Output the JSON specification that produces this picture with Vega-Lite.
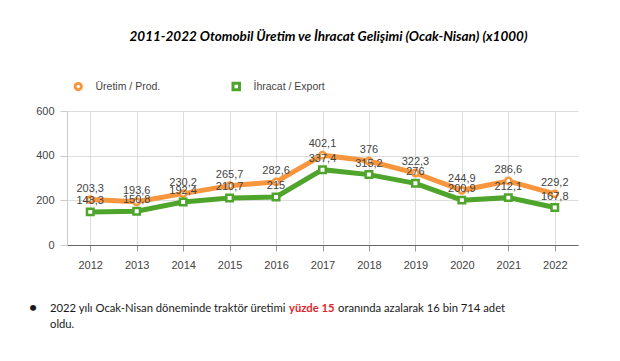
{
  "$schema": "https://vega.github.io/schema/vega-lite/v6.json",
  "background": "white",
  "padding": {"left": 29, "top": 29, "right": 10, "bottom": 10},
  "config": {
    "view": {"stroke": null},
    "font": "Liberation Sans",
    "locale": {"number": {"decimal": ",", "thousands": ".", "grouping": [3], "currency": ["", " TL"]}}
  },
  "title": {
    "text": "2011-2022 Otomobil Üretim ve İhracat Gelişimi (Ocak-Nisan) (x1000)",
    "font": "Lato", "fontSize": 13.5, "fontStyle": "italic", "fontWeight": "bold",
    "color": "#000000", "anchor": "middle", "dx": 25, "offset": 38
  },
  "spacing": 30,
  "vconcat": [
    {
      "width": 511,
      "height": 134,
      "data": {"values": [
        {"year": "2012", "series": "Üretim / Prod.", "value": 203.3},
        {"year": "2013", "series": "Üretim / Prod.", "value": 193.6},
        {"year": "2014", "series": "Üretim / Prod.", "value": 230.2},
        {"year": "2015", "series": "Üretim / Prod.", "value": 265.7},
        {"year": "2016", "series": "Üretim / Prod.", "value": 282.6},
        {"year": "2017", "series": "Üretim / Prod.", "value": 402.1},
        {"year": "2018", "series": "Üretim / Prod.", "value": 376},
        {"year": "2019", "series": "Üretim / Prod.", "value": 322.3},
        {"year": "2020", "series": "Üretim / Prod.", "value": 244.9},
        {"year": "2021", "series": "Üretim / Prod.", "value": 286.6},
        {"year": "2022", "series": "Üretim / Prod.", "value": 229.2},
        {"year": "2012", "series": "İhracat / Export", "value": 148.3},
        {"year": "2013", "series": "İhracat / Export", "value": 150.8},
        {"year": "2014", "series": "İhracat / Export", "value": 192.4},
        {"year": "2015", "series": "İhracat / Export", "value": 210.7},
        {"year": "2016", "series": "İhracat / Export", "value": 215},
        {"year": "2017", "series": "İhracat / Export", "value": 337.4},
        {"year": "2018", "series": "İhracat / Export", "value": 315.2},
        {"year": "2019", "series": "İhracat / Export", "value": 276},
        {"year": "2020", "series": "İhracat / Export", "value": 200.9},
        {"year": "2021", "series": "İhracat / Export", "value": 212.1},
        {"year": "2022", "series": "İhracat / Export", "value": 167.8}
      ]},
      "encoding": {
        "x": {
          "field": "year", "type": "ordinal",
          "scale": {"type": "point", "padding": 0.5},
          "axis": {
            "title": null, "labelAngle": 0, "labelFont": "Liberation Sans", "labelFontSize": 11,
            "labelColor": "#444444", "grid": true, "gridColor": "#dddddd", "domainColor": "#666666",
            "tickColor": "#999999", "tickSize": 6, "labelPadding": 8
          }
        },
        "y": {
          "field": "value", "type": "quantitative",
          "scale": {"domain": [0, 600], "nice": false},
          "axis": {
            "title": null, "values": [0, 200, 400, 600], "labelFont": "Liberation Sans", "labelFontSize": 11,
            "labelColor": "#444444", "grid": true, "gridColor": "#dddddd", "domainColor": "#cccccc",
            "tickColor": "#cccccc", "tickSize": 7, "labelPadding": 6
          }
        },
        "color": {
          "field": "series", "type": "nominal",
          "scale": {"domain": ["Üretim / Prod.", "İhracat / Export"], "range": ["#F7963C", "#4FA52C"]},
          "legend": {
            "title": null, "orient": "none", "direction": "horizontal", "legendX": 6, "legendY": -30,
            "padding": 0, "symbolSize": 441, "symbolStrokeWidth": 3, "labelOffset": 12, "columnPadding": 66,
            "labelFont": "Liberation Sans", "labelFontSize": 10.5, "labelColor": "#444444",
            "encode": {"symbols": {"update": {
              "shape": {"signal": "datum.value === 'Üretim / Prod.' ? 'M-1,0H-0.33M0.33,0H1M-0.33,0A0.33,0.33,0,1,1,0.33,0A0.33,0.33,0,1,1,-0.33,0Z' : 'M-1,0H-0.33M0.33,0H1M-0.33,-0.33H0.33V0.33H-0.33Z'"},
              "fill": {"value": "white"},
              "stroke": {"scale": "color", "field": "value"},
              "strokeWidth": {"value": 3},
              "opacity": {"value": 1}
            }}}
          }
        }
      },
      "layer": [
        {"mark": {"type": "line", "strokeWidth": 5}},
        {
          "mark": {"type": "point", "filled": false, "fill": "white", "strokeWidth": 2.5, "opacity": 1},
          "encoding": {
            "shape": {"field": "series", "type": "nominal", "scale": {"domain": ["Üretim / Prod.", "İhracat / Export"], "range": ["circle", "square"]}, "legend": null},
            "size": {"field": "series", "type": "nominal", "scale": {"domain": ["Üretim / Prod.", "İhracat / Export"], "range": [40, 42]}, "legend": null}
          }
        },
        {
          "mark": {"type": "text", "dy": -11, "fontSize": 11, "baseline": "middle", "font": "Liberation Sans"},
          "encoding": {
            "text": {"field": "value", "type": "quantitative", "format": ".1~f"},
            "color": {"value": "#444444"}
          }
        }
      ]
    },
    {
      "spacing": -29,
      "hconcat": [
        {
          "width": 1, "height": 1,
          "data": {"values": [{}]},
          "mark": {"type": "text", "text": ""},
          "title": {"text": "•", "font": "Lato", "fontSize": 14, "fontWeight": "bold", "color": "#1a1a1a", "anchor": "start", "frame": "group", "offset": 0, "dx": -38}
        },
        {
          "spacing": -7,
          "vconcat": [
            {
              "spacing": 3,
              "hconcat": [
                {
                  "width": 1, "height": 1,
                  "data": {"values": [{}]},
                  "mark": {"type": "text", "text": ""},
                  "title": {"text": "2022 yılı Ocak-Nisan döneminde traktör üretimi", "font": "Lato", "fontSize": 11.25, "fontWeight": "normal", "color": "#1a1a1a", "anchor": "start", "frame": "group", "offset": 0, "dx": -18}
                },
                {
                  "width": 1, "height": 1,
                  "data": {"values": [{}]},
                  "mark": {"type": "text", "text": ""},
                  "title": {"text": "yüzde 15", "font": "Lato", "fontSize": 11.25, "fontWeight": "bold", "color": "#E0262C", "anchor": "start", "frame": "group", "offset": 0, "dx": -18}
                },
                {
                  "width": 1, "height": 1,
                  "data": {"values": [{}]},
                  "mark": {"type": "text", "text": ""},
                  "title": {"text": "oranında azalarak 16 bin 714 adet", "font": "Lato", "fontSize": 11.25, "fontWeight": "normal", "color": "#1a1a1a", "anchor": "start", "frame": "group", "offset": 0, "dx": -18}
                }
              ]
            },
            {
              "width": 1, "height": 1,
              "data": {"values": [{}]},
              "mark": {"type": "text", "text": ""},
              "title": {"text": "oldu.", "font": "Lato", "fontSize": 11.25, "fontWeight": "normal", "color": "#1a1a1a", "anchor": "start", "frame": "group", "offset": 0, "dx": -18}
            }
          ]
        }
      ]
    }
  ]
}
